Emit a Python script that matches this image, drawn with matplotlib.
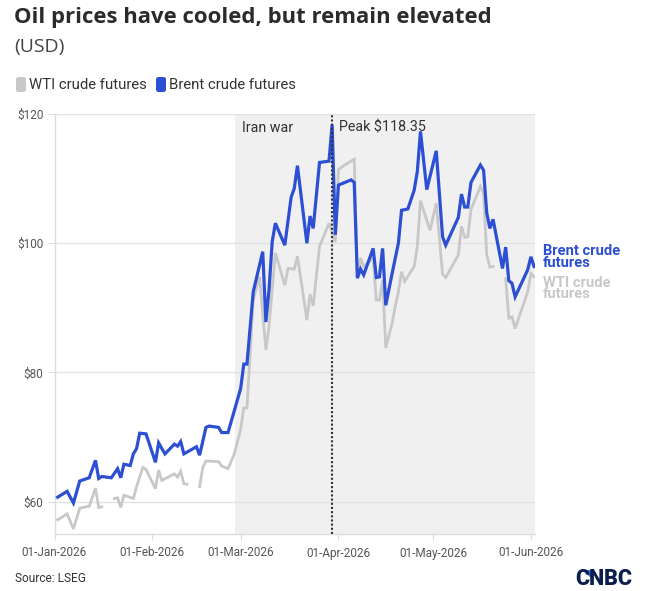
import matplotlib
matplotlib.use('Agg')
import matplotlib.pyplot as plt
import matplotlib.dates as mdates
import matplotlib.transforms as mtransforms
from matplotlib.patches import FancyBboxPatch, Polygon
import numpy as np
import pandas as pd

plt.rcParams['font.family'] = ['Roboto', 'DejaVu Sans']

START = pd.Timestamp('2026-01-01')

# Day offsets from 1 Jan 2026 and prices (USD)
brent_days = [1, 4, 6, 8, 11, 13, 14, 15, 18, 20, 21, 22, 24, 25, 26, 27, 29, 32, 33, 35,
              38, 39, 40, 41, 45, 46, 48, 49, 52, 53, 55, 59, 60, 61, 63, 66, 67, 68, 69, 70,
              73, 75, 76, 77, 80, 81, 82, 84, 87, 88, 89, 90, 94, 95, 96, 97, 98, 101, 102, 103,
              104, 105, 107, 109, 110, 112, 114, 115, 116, 118, 121, 123, 124, 128, 129, 130, 131, 132, 135, 136,
              137, 138, 139, 142, 143, 144, 145, 146, 150, 151, 152]
brent_vals = [60.7, 61.6, 59.8, 63.2, 63.7, 66.4, 63.6, 63.9, 63.7, 65.1, 63.7, 65.8, 65.6, 67.4, 68.2, 70.6, 70.5, 66.1, 69.1, 67.4,
              68.9, 68.6, 69.3, 67.4, 68.5, 67.2, 71.5, 71.7, 71.5, 70.7, 70.7, 77.5, 81.3, 81.3, 92.5, 98.7, 87.8, 92.8, 100.2, 103.1,
              99.7, 107.1, 108.5, 112.0, 100.0, 104.2, 102.3, 112.5, 112.7, 118.35, 101.3, 109.0, 109.8, 109.4, 94.6, 96.0, 95.1, 99.2, 94.7, 94.8,
              99.2, 90.4, 95.3, 100.0, 105.1, 105.3, 108.2, 111.1, 117.3, 108.3, 114.3, 101.0, 99.7, 104.0, 107.6, 105.6, 105.6, 109.4, 112.1, 111.3,
              104.7, 102.3, 103.7, 96.1, 99.4, 94.2, 93.8, 91.7, 95.9, 97.9, 96.4]

wti_days = [1, 4, 6, 8, 11, 13, 14, 15, 18,
            19, 20, 21, 22, 25, 26, 28, 29, 32, 33, 34, 38, 39, 40, 41, 42, 44,
            46, 47, 48, 52, 53, 55, 57, 59, 60, 61, 63, 65, 67, 68, 70, 73, 74, 76, 77,
            80, 81, 82, 84, 87, 89, 90, 92, 95, 96, 97, 98, 101, 102, 103, 104, 105, 107, 108,
            109, 110, 111, 114, 115, 116, 119, 121, 123, 124, 128, 129, 130, 131, 132, 135, 136,
            137, 138, 139, 141,
            143, 144, 145, 146, 150, 151, 152]
wti_vals = [57.2, 58.1, 55.8, 59.0, 59.3, 62.1, 59.1, 59.2, np.nan,
            60.5, 60.6, 59.1, 61.0, 60.5, 62.3, 65.3, 65.0, 62.0, 64.9, 63.3, 64.3, 63.8, 64.7, 62.8, 62.7, np.nan,
            62.3, 65.3, 66.3, 66.2, 65.5, 65.1, 67.4, 71.2, 74.5, 74.5, 91.2, 94.8, 83.5, 87.1, 98.5, 93.5, 96.1, 96.0, 98.0,
            88.1, 92.1, 90.3, 99.5, 103.1, 100.2, 111.4, 112.1, 113.0, 94.6, 97.7, 96.4, 97.7, 91.2, 91.2, 94.3, 83.8, 87.6, 90.2,
            92.5, 95.6, 94.1, 96.4, 99.5, 106.6, 102.0, 106.2, 95.2, 94.7, 98.2, 102.6, 100.9, 101.0, 105.2, 108.8, 107.7,
            98.2, 96.3, 96.4, np.nan,
            94.5, 88.4, 88.6, 86.8, 92.5, 95.3, 94.8]

y_ticks = [60, 80, 100, 120]
x_tick_labels = ['01-Jan-2026', '01-Feb-2026', '01-Mar-2026', '01-Apr-2026', '01-May-2026', '01-Jun-2026']
war_start = '2026-02-27 08:00'
peak_value = 118.35

brent_dates = START + pd.to_timedelta(brent_days, unit='D')
wti_dates = START + pd.to_timedelta(wti_days, unit='D')
peak_date = brent_dates[int(np.argmax(brent_vals))]

BLUE = '#2c4fd3'
GRAY = '#c8c8c8'
TXT = '#333333'

W, H = 646, 591
fig = plt.figure(figsize=(W / 100, H / 100), dpi=100)
ax = fig.add_axes([54.5 / W, (H - 534) / H, (535 - 54.5) / W, (534 - 114) / H])

x_end = START + pd.Timedelta(days=152.3)
ax.set_xlim(START, x_end)
ax.set_ylim(55, 120)

ax.axvspan(pd.Timestamp(war_start), x_end, color='#f0f0f0', lw=0, zorder=0)

ax.plot(wti_dates, wti_vals, color=GRAY, lw=2.0, zorder=2, solid_joinstyle='miter')
ax.plot(brent_dates, brent_vals, color=BLUE, lw=2.3, zorder=3, solid_joinstyle='miter')

ax.axvline(peak_date, color='#333333', lw=1.5, ls=(0, (1, 1)), zorder=4)

ax.set_yticks(y_ticks)
ax.set_yticklabels([f'${v}' for v in y_ticks])
ax.yaxis.grid(True, color='#e2e2e2', lw=1)
ax.set_axisbelow(True)

xt = pd.to_datetime(x_tick_labels, format='%d-%b-%Y')
ax.set_xticks(xt)
ax.set_xticklabels(x_tick_labels)

for s in ['top', 'right']:
    ax.spines[s].set_visible(False)
for s in ['left', 'bottom']:
    ax.spines[s].set_color('#dddddd')
    ax.spines[s].set_linewidth(1)

ax.tick_params(axis='y', length=5, color='#dddddd', labelsize=8.5, labelcolor='#555555', pad=3)
ax.tick_params(axis='x', length=4, color='#dddddd', labelsize=8.5, labelcolor='#555555', pad=5)

# Annotations
ax.annotate('Iran war', xy=(pd.Timestamp(war_start), 117.9), xytext=(5, 0), textcoords='offset points',
            va='center', ha='left', fontsize=10.3, color=TXT)
ax.annotate(f'Peak ${peak_value}', xy=(peak_date, 117.9), xytext=(5, 0), textcoords='offset points',
            va='center', ha='left', fontsize=10.3, color=TXT)

blend = mtransforms.blended_transform_factory(ax.transAxes, ax.transData)
ax.text(1.017, 97.9, 'Brent crude\nfutures', transform=blend, color=BLUE, fontsize=10.6,
        fontweight='bold', va='center', ha='left', linespacing=0.8, clip_on=False)
ax.text(1.017, 93.0, 'WTI crude\nfutures', transform=blend, color=GRAY, fontsize=10.6,
        fontweight='bold', va='center', ha='left', linespacing=0.8, clip_on=False)

def fx(px):
    return px / W

def fy(py):
    return 1 - py / H

fig.text(fx(14), fy(17), 'Oil prices have cooled, but remain elevated', fontsize=15.9,
         fontweight='bold', color='#2b2b2b', va='center', ha='left',
         family=['Open Sans', 'DejaVu Sans'])
fig.text(fx(14), fy(47), '(USD)', fontsize=14, color='#444444', va='center', ha='left',
         family=['Open Sans', 'DejaVu Sans'])

# Legend
for x0, col, lab in [(16, GRAY, 'WTI crude futures'), (156, BLUE, 'Brent crude futures')]:
    fig.patches.append(FancyBboxPatch((fx(x0), fy(92)), fx(10), 15 / H,
                                      boxstyle='round,pad=0,rounding_size=0.004',
                                      transform=fig.transFigure, facecolor=col, edgecolor='none'))
    fig.text(fx(x0 + 13), fy(85), lab, fontsize=10.7, color=TXT, va='center', ha='left')

fig.text(fx(15), fy(579), 'Source: LSEG', fontsize=8.6, color=TXT, va='center', ha='left')

# CNBC logo
fig.text(fx(632), fy(579), 'CNBC', fontsize=15.5, fontweight='black', color='#0b1f4f',
         va='center', ha='right', family=['Roboto', 'DejaVu Sans'])
fig.patches.append(Polygon([[fx(582), fy(570)], [fx(591), fy(570)], [fx(591), fy(578)]],
                           closed=True, transform=fig.transFigure, facecolor='#3b6ff0', edgecolor='none'))

fig.savefig('out.png', dpi=100)
